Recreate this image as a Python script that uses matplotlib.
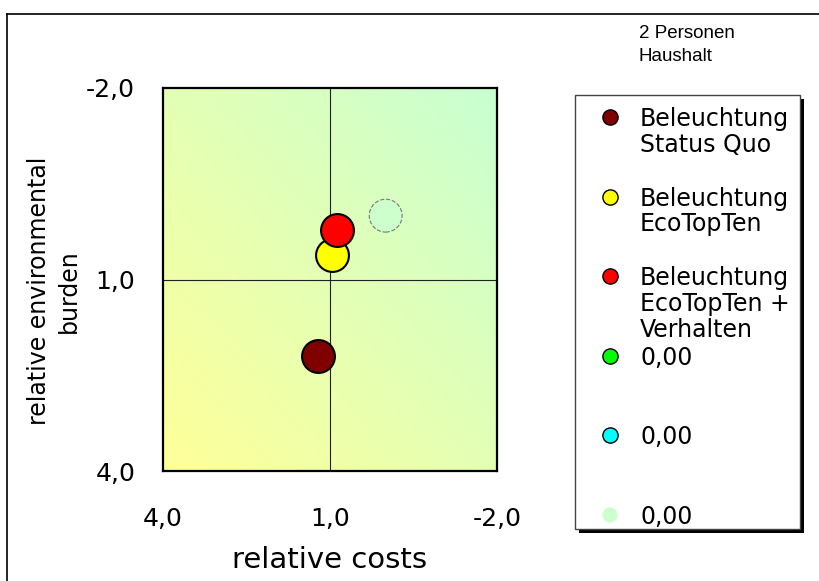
import numpy as np
import matplotlib
matplotlib.use("Agg")
import matplotlib.pyplot as plt
from matplotlib.patches import Rectangle
from matplotlib.colors import to_rgb

# --- data -------------------------------------------------------------
series_labels = ["Beleuchtung\nStatus Quo",
                 "Beleuchtung\nEcoTopTen",
                 "Beleuchtung\nEcoTopTen +\nVerhalten",
                 "0,00", "0,00", "0,00"]
series_colors = ["#800000", "#FFFF00", "#FF0000", "#00FF00", "#00FFFF", "#CCFFCC"]
relative_costs = [1.22, 0.96, 0.87, np.nan, np.nan, 0.0]
relative_burden = [2.20, 0.61, 0.22, np.nan, np.nan, 0.0]

x_ticks = [4.0, 1.0, -2.0]
x_tick_labels = ["4,0", "1,0", "-2,0"]
y_ticks = [-2.0, 1.0, 4.0]
y_tick_labels = ["-2,0", "1,0", "4,0"]

W, H = 819, 581
fig = plt.figure(figsize=(W / 100, H / 100), dpi=100)
fig.patch.set_facecolor("white")

# main plotting area (pixel box -> figure fraction)
L, R, T, B = 163, 497, 88, 471
ax = fig.add_axes([L / W, 1 - B / H, (R - L) / W, (B - T) / H])
ax.set_xlim(4.0, -2.0)
ax.set_ylim(4.0, -2.0)

# diagonal gradient background: yellow bottom-left -> pale green top-right
c0 = np.array(to_rgb("#FFFF99"))
c1 = np.array(to_rgb("#C8FFD2"))
n = 300
gx, gy = np.meshgrid(np.linspace(0, 1, n), np.linspace(0, 1, n))
t = (gx + gy) / 2.0
img = c0[None, None, :] * (1 - t[..., None]) + c1[None, None, :] * t[..., None]
ax.imshow(img, extent=(0, 1, 0, 1), transform=ax.transAxes, origin="lower",
          aspect="auto", zorder=0, interpolation="bilinear")

# quadrant lines
ax.axvline(1.0, color="#222222", lw=0.8, zorder=1)
ax.axhline(1.0, color="#222222", lw=0.8, zorder=1)

# bubbles
for i, (xv, yv, col) in enumerate(zip(relative_costs, relative_burden, series_colors)):
    if np.isnan(xv):
        continue
    if i == len(series_colors) - 1:
        ax.scatter([xv], [yv], s=560, c=col, edgecolors="#777777",
                   linewidths=0.8, linestyle="--", zorder=3)
    else:
        ax.scatter([xv], [yv], s=560, c=col, edgecolors="black",
                   linewidths=1.5, zorder=3 + i)

ax.set_xticks(x_ticks)
ax.set_xticklabels(x_tick_labels)
ax.set_yticks(y_ticks)
ax.set_yticklabels(y_tick_labels)
ax.tick_params(axis="both", length=0, labelsize=18, colors="black")
ax.tick_params(axis="x", pad=26)
ax.tick_params(axis="y", pad=20)
for sp in ax.spines.values():
    sp.set_linewidth(1.6)
    sp.set_color("black")

ax.set_xlabel("relative costs", fontsize=21, labelpad=11)
ax.set_ylabel("relative environmental\nburden", fontsize=17, labelpad=4,
              linespacing=1.3)
ax.yaxis.label.set_y(0.47)

# overlay in pixel coordinates for frame, note and legend
ov = fig.add_axes([0, 0, 1, 1], zorder=10)
ov.set_xlim(0, W)
ov.set_ylim(H, 0)
ov.axis("off")
ov.patch.set_alpha(0)

# outer frame (only top and left edges fall inside the image)
ov.plot([7, W + 5], [14, 14], color="black", lw=1.2)
ov.plot([7, 7], [14, H + 5], color="black", lw=1.2)

ov.text(639, 45, "2 Personen\nHaushalt", family="Liberation Sans", fontsize=13.5,
        va="center", ha="left", linespacing=1.45)

# legend box with drop shadow
bx0, by0, bx1, by1 = 575, 95, 800, 529
ov.add_patch(Rectangle((bx0 + 4, by0 + 4), bx1 - bx0, by1 - by0,
                       facecolor="black", edgecolor="none", zorder=1))
ov.add_patch(Rectangle((bx0, by0), bx1 - bx0, by1 - by0,
                       facecolor="white", edgecolor="#444444", lw=1.0, zorder=2))

first_y, step = 117, 79.6
for i, (lab, col) in enumerate(zip(series_labels, series_colors)):
    yy = first_y + i * step
    if i == len(series_labels) - 1:
        ov.scatter([610], [yy], s=120, c=col, edgecolors="none", zorder=3)
    else:
        ov.scatter([610], [yy], s=120, c=col, edgecolors="black", linewidths=1.0, zorder=3)
    ov.text(640, yy - 10, lab, fontsize=17, va="top", ha="left",
            linespacing=1.1, zorder=3)

fig.savefig("out.png", dpi=100)
